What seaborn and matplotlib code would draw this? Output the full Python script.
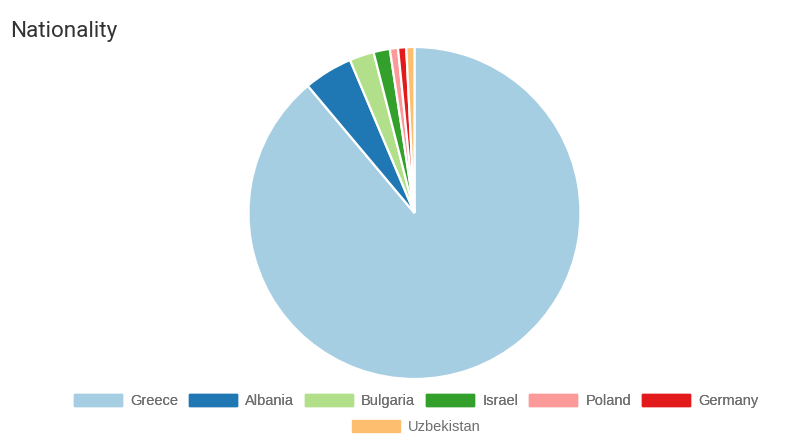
import matplotlib
matplotlib.use("Agg")
import matplotlib.pyplot as plt
from matplotlib.patches import Patch
import seaborn as sns

# nationality counts
countries = ["Greece", "Albania", "Bulgaria", "Israel", "Poland", "Germany", "Uzbekistan"]
counts = [112, 6, 3, 2, 1, 1, 1]

sns.set_theme(style="white")
plt.rcParams["font.family"] = ["Liberation Sans", "DejaVu Sans"]
colors = sns.color_palette("Paired", len(countries))

W, H = 800, 447
fig = plt.figure(figsize=(W / 100, H / 100), dpi=100)
fig.patch.set_facecolor("white")

cx, cy, r = 414.5, 213, 166
ax = fig.add_axes([(cx - r) / W, (H - cy - r) / H, 2 * r / W, 2 * r / H])
ax.pie(counts, colors=colors, startangle=90, counterclock=False,
       wedgeprops=dict(edgecolor="white", linewidth=1.6))
ax.set_xlim(-1, 1)
ax.set_ylim(-1, 1)
ax.set_aspect("equal")
ax.axis("off")

fig.text(10 / W, 1 - 32 / H, "Nationality", family=["Roboto", "DejaVu Sans"],
         fontsize=16.2, color="#333333", va="center", ha="left")

handles = [Patch(facecolor=c, edgecolor=c, label=n) for c, n in zip(colors, countries)]
legend_kw = dict(loc="center", frameon=False, fontsize=10.5, labelcolor="#6e6e6e",
                 handlelength=3.3, handleheight=0.9, handletextpad=0.55,
                 columnspacing=0.75, borderpad=0, borderaxespad=0)
leg1 = fig.legend(handles=handles[:6], ncol=6, bbox_to_anchor=(416 / W, 1 - 401 / H), **legend_kw)
fig.add_artist(leg1)
fig.legend(handles=handles[6:], ncol=1, bbox_to_anchor=(416 / W, 1 - 427 / H), **legend_kw)

fig.savefig("out.png", dpi=100, facecolor="white")
